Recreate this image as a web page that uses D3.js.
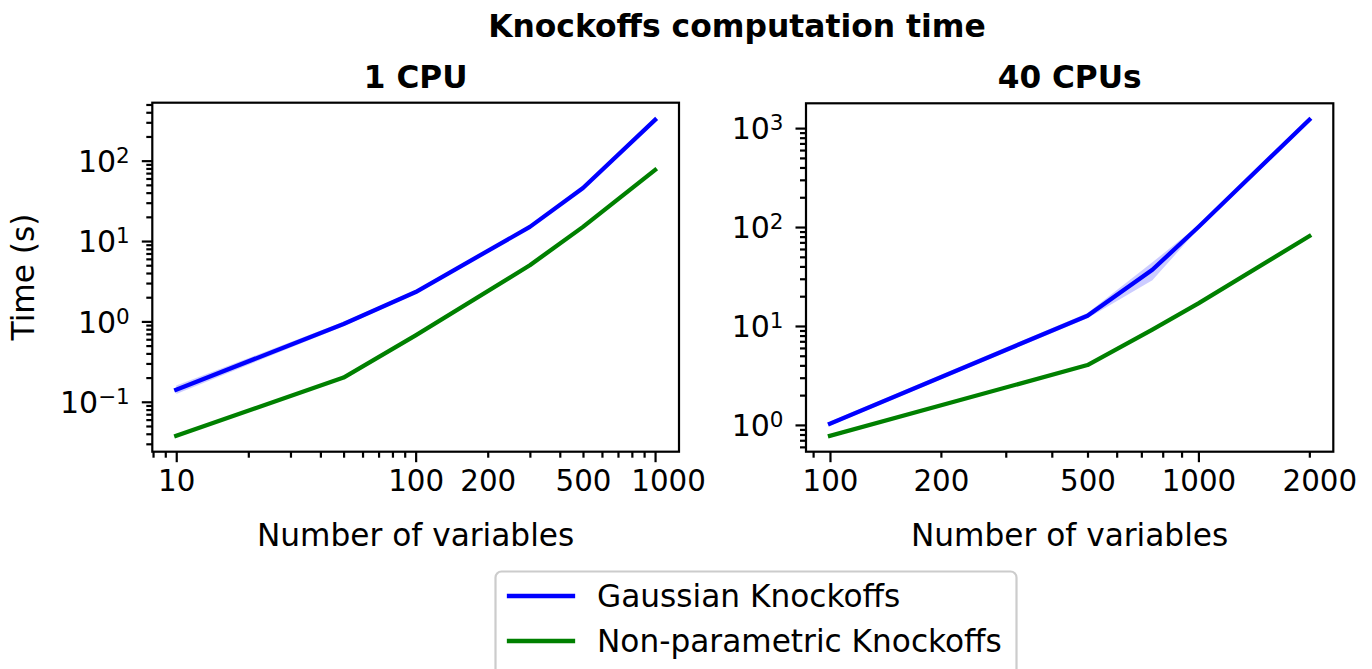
<!DOCTYPE html>
<html>
<head>
<meta charset="utf-8">
<script src="https://cdn.jsdelivr.net/npm/d3@7"></script>
<style>
  body { margin: 0; background: #fff; }
  svg text { font-family: "DejaVu Sans", sans-serif; fill: #000; }
</style>
</head>
<body>
<script>
// values
var cpu1Vars = [10, 50, 100, 300, 500, 1000];
var cpu1Gauss = [0.141, 0.93, 2.32, 15.0, 45.7, 322];
var cpu1GaussLo = [0.125, 0.87, 2.20, 14.3, 44.0, 312];
var cpu1GaussHi = [0.159, 0.99, 2.44, 15.7, 47.5, 334];
var cpu1Nonpar = [0.0377, 0.20, 0.67, 5.0, 15.0, 76.6];

var cpu40Vars = [100, 500, 750, 1000, 2000];
var cpu40Gauss = [1.03, 12.7, 37, 100, 1216];
var cpu40GaussLo = [0.98, 12.0, 29, 96, 1200];
var cpu40GaussHi = [1.08, 13.5, 44, 104, 1232];
var cpu40Nonpar = [0.775, 4.03, 9.2, 16.9, 81];

var cpu1XTicks = [10, 100, 1000],
    cpu1XLabelledMinor = [200, 500];
var cpu40XTicks = [100, 1000],
    cpu40XLabelledMinor = [200, 500, 2000];

var seriesNames = ["Gaussian Knockoffs", "Non-parametric Knockoffs"],
    seriesColors = ["#0000ff", "#008000"];

var width = 1372, height = 669,
    fontSize = "31.2px",
    tickFont = "29.3px",
    lw = 2.2;

var svg = d3.select("body").append("svg")
    .attr("width", width)
    .attr("height", height);

svg.append("text")
    .attr("x", 737).attr("y", 37)
    .attr("text-anchor", "middle")
    .style("font-weight", "bold")
    .style("font-size", "31.4px")
    .text("Knockoffs computation time");

function logPad(lo, hi) {
  var a = Math.log10(lo), b = Math.log10(hi), m = (b - a) * 0.05;
  return [Math.pow(10, a - m), Math.pow(10, b + m)];
}

function minorTicks(domain) {
  var out = [];
  for (var e = Math.floor(Math.log10(domain[0])) - 1; e <= Math.ceil(Math.log10(domain[1])); e++) {
    for (var k = 2; k <= 9; k++) {
      var v = k * Math.pow(10, e);
      if (v >= domain[0] && v <= domain[1]) out.push(v);
    }
  }
  return out;
}

function majorTicks(domain) {
  var out = [];
  for (var e = Math.ceil(Math.log10(domain[0])); e <= Math.floor(Math.log10(domain[1])); e++) out.push(Math.pow(10, e));
  return out;
}

function styleAxis(g) {
  g.select(".domain").remove();
  g.attr("font-family", null).attr("font-size", null);
  g.selectAll("line").attr("stroke", "#000").attr("stroke-width", lw);
  g.selectAll("text").style("font-size", tickFont);
}

function panel(p) {
  var g = svg.append("g");

  var x = d3.scaleLog()
      .domain(logPad(d3.min(p.vars), d3.max(p.vars)))
      .range([p.left, p.right]);

  var yAll = p.lo.concat(p.hi, p.nonpar, p.gauss);
  var y = d3.scaleLog()
      .domain(logPad(d3.min(yAll), d3.max(yAll)))
      .range([p.bottom, p.top]);

  var shift = function(d) { return (p.labelShift[Math.round(d)] || 0) + "px"; };

  // x axis
  g.append("g")
      .attr("transform", "translate(0," + p.bottom + ")")
      .call(d3.axisBottom(x).tickValues(minorTicks(x.domain())).tickSize(6).tickPadding(13)
        .tickFormat(function(d) { return p.xLabelled.indexOf(Math.round(d)) >= 0 ? d3.format("d")(d) : ""; }))
      .call(styleAxis)
      .selectAll(".tick text").attr("dx", shift);
  g.append("g")
      .attr("transform", "translate(0," + p.bottom + ")")
      .call(d3.axisBottom(x).tickValues(p.xTicks).tickSize(10.5).tickPadding(8.5).tickFormat(d3.format("d")))
      .call(styleAxis)
      .selectAll(".tick text").attr("dx", shift);

  // y axis
  g.append("g")
      .attr("transform", "translate(" + p.left + ",0)")
      .call(d3.axisLeft(y).tickValues(minorTicks(y.domain())).tickSize(6).tickFormat(""))
      .call(styleAxis);
  g.append("g")
      .attr("transform", "translate(" + p.left + ",0)")
      .call(d3.axisLeft(y).tickValues(majorTicks(y.domain())).tickSize(10.5).tickPadding(12).tickFormat(""))
      .call(styleAxis)
      .selectAll(".tick text")
      .attr("dy", "0.36em")
      .style("font-size", "30px")
      .each(function(d) {
        var t = d3.select(this),
            e = Math.round(Math.log10(d));
        t.append("tspan").text("10");
        t.append("tspan").attr("dy", "-0.42em").style("font-size", "21.5px")
          .text(e < 0 ? "\u2212" + (-e) : e);
      });

  var rows = p.vars.map(function(n, i) {
    return {n: n, g: p.gauss[i], lo: p.lo[i], hi: p.hi[i], np: p.nonpar[i]};
  });

  g.append("path")
      .datum(rows)
      .attr("fill", seriesColors[0])
      .attr("fill-opacity", 0.2)
      .attr("d", d3.area().x(function(d) { return x(d.n); })
        .y0(function(d) { return y(d.lo); }).y1(function(d) { return y(d.hi); }));

  [["g", 0], ["np", 1]].forEach(function(s) {
    g.append("path")
        .datum(rows)
        .attr("fill", "none")
        .attr("stroke", seriesColors[s[1]])
        .attr("stroke-width", 4.3)
        .attr("stroke-linecap", "square")
        .attr("stroke-linejoin", "round")
        .attr("d", d3.line().x(function(d) { return x(d.n); }).y(function(d) { return y(d[s[0]]); }));
  });

  g.append("rect")
      .attr("x", p.left).attr("y", p.top)
      .attr("width", p.right - p.left).attr("height", p.bottom - p.top)
      .attr("fill", "none").attr("stroke", "#000").attr("stroke-width", lw);

  g.append("text")
      .attr("x", (p.left + p.right) / 2).attr("y", 88)
      .attr("text-anchor", "middle")
      .style("font-weight", "bold").style("font-size", fontSize)
      .text(p.title);

  g.append("text")
      .attr("x", (p.left + p.right) / 2).attr("y", 546)
      .attr("text-anchor", "middle")
      .style("font-size", fontSize)
      .text("Number of variables");
}

panel({left: 152.3, right: 679, top: 102.7, bottom: 451.7, title: "1 CPU",
  vars: cpu1Vars, gauss: cpu1Gauss, lo: cpu1GaussLo, hi: cpu1GaussHi, nonpar: cpu1Nonpar,
  xTicks: cpu1XTicks, xLabelled: cpu1XLabelledMinor, labelShift: {1000: 13}});

panel({left: 806, right: 1333.3, top: 103.3, bottom: 451.7, title: "40 CPUs",
  vars: cpu40Vars, gauss: cpu40Gauss, lo: cpu40GaussLo, hi: cpu40GaussHi, nonpar: cpu40Nonpar,
  xTicks: cpu40XTicks, xLabelled: cpu40XLabelledMinor, labelShift: {2000: 10}});

svg.append("text")
    .attr("transform", "translate(34,277) rotate(-90)")
    .attr("text-anchor", "middle")
    .style("font-size", fontSize)
    .text("Time (s)");

// legend
var legend = svg.append("g");
legend.append("rect")
    .attr("x", 495.5).attr("y", 571.5)
    .attr("width", 521).attr("height", 120)
    .attr("rx", 6)
    .attr("fill", "#fff").attr("fill-opacity", 0.8)
    .attr("stroke", "#cccccc").attr("stroke-width", 2.2);

var item = legend.selectAll(".item")
    .data(seriesNames)
  .enter().append("g")
    .attr("transform", function(d, i) { return "translate(0," + (596 + i * 45) + ")"; });

item.append("line")
    .attr("x1", 509).attr("x2", 573)
    .attr("stroke", function(d, i) { return seriesColors[i]; })
    .attr("stroke-width", 4.3)
    .attr("stroke-linecap", "square");

item.append("text")
    .attr("x", 597).attr("y", 11)
    .style("font-size", fontSize)
    .text(function(d) { return d; });
</script>
</body>
</html>
